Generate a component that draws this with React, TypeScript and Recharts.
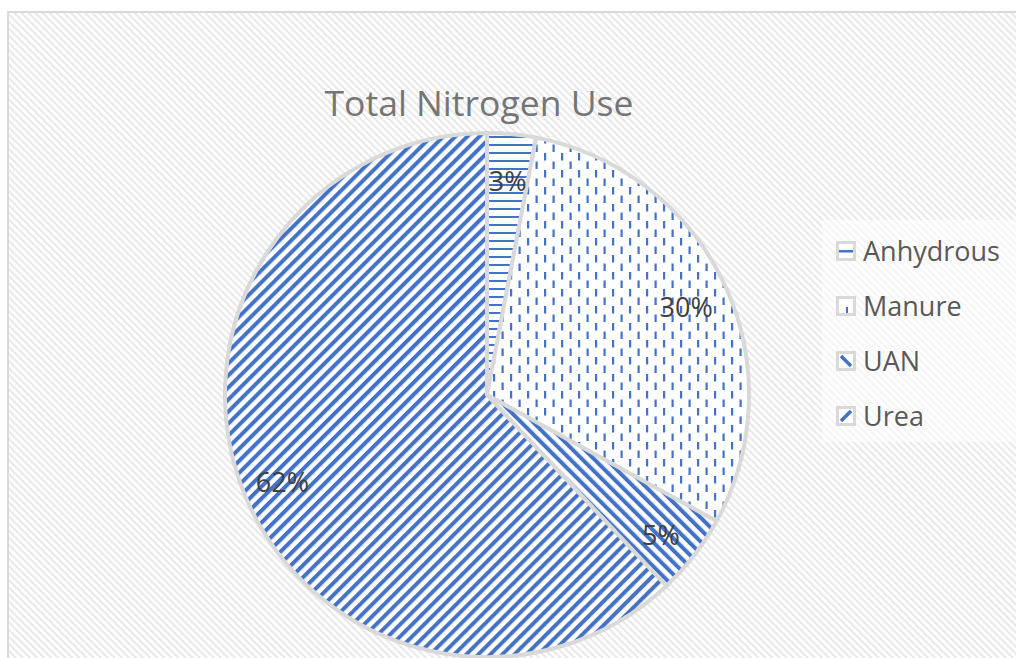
import React from 'react';
import { PieChart, Pie, Cell, Legend } from 'recharts';

const categories = ['Anhydrous', 'Manure', 'UAN', 'Urea'];
const shares = [3, 30, 5, 62];
const title = 'Total Nitrogen Use';

const patternIds = ['pAnh', 'pMan', 'pUan', 'pUrea'];
const data = categories.map((name, i) => ({ name, value: shares[i] }));

const BLUE = '#4472C4';
const FONT = '"Open Sans", "Noto Sans", sans-serif';
const RADIAN = Math.PI / 180;

const renderLabel = (props: any) => {
  const { cx, cy, midAngle, outerRadius, percent } = props;
  const r = outerRadius * 0.84;
  const x = cx + r * Math.cos(-midAngle * RADIAN);
  const y = cy + r * Math.sin(-midAngle * RADIAN);
  return (
    <text x={x} y={y + 5} fill="#404040" fontSize={27} fontFamily={FONT} textAnchor="middle" dominantBaseline="central">
      {`${Math.round(percent * 100)}%`}
    </text>
  );
};

const LegendContent = (props: any) => {
  const payload = props.payload || [];
  return (
    <div style={{ width: 194, height: 222, background: 'rgba(255,255,255,0.55)', boxSizing: 'border-box', paddingTop: 3 }}>
      {payload.map((entry: any, i: number) => {
        const idx = categories.indexOf(entry.value);
        return (
          <div key={i} style={{ display: 'flex', alignItems: 'center', height: 55, marginLeft: 14 }}>
            <svg width={20} height={20} style={{ marginRight: 7 }}>
              <rect x={1.5} y={1.5} width={17} height={17} fill={`url(#${patternIds[idx]}L)`} stroke="#d9d9d9" strokeWidth={3} />
            </svg>
            <span style={{ fontFamily: FONT, fontSize: 27, color: '#595959', lineHeight: '32px' }}>{entry.value}</span>
          </div>
        );
      })}
    </div>
  );
};

export default function App() {
  return (
    <div style={{ position: 'absolute', left: 0, top: 0, width: 1016, height: 658, background: '#fff', overflow: 'hidden' }}>
      <svg width={1016} height={658} style={{ position: 'absolute', left: 0, top: 0 }}>
        <defs>
          <pattern id="bgHatch" patternUnits="userSpaceOnUse" width={5} height={5} patternTransform="rotate(-45)">
            <rect width={5} height={5} fill="#ffffff" />
            <rect x={0} y={0} width={2} height={5} fill="#e8e8e8" />
          </pattern>
          <pattern id="pUrea" patternUnits="userSpaceOnUse" width={8.5} height={8.5} patternTransform="rotate(45)">
            <rect width={8.5} height={8.5} fill="#ffffff" />
            <rect x={0} y={0} width={4} height={8.5} fill={BLUE} />
          </pattern>
          <pattern id="pUan" patternUnits="userSpaceOnUse" width={8.5} height={8.5} patternTransform="rotate(-45)">
            <rect width={8.5} height={8.5} fill="#ffffff" />
            <rect x={0} y={0} width={4} height={8.5} fill={BLUE} />
          </pattern>
          <pattern id="pAnh" patternUnits="userSpaceOnUse" width={8} height={8}>
            <rect width={8} height={8} fill="#ffffff" />
            <rect x={0} y={0} width={8} height={2} fill={BLUE} />
          </pattern>
          <pattern id="pMan" patternUnits="userSpaceOnUse" width={17} height={17}>
            <rect width={17} height={17} fill="#ffffff" />
            <rect x={0} y={0} width={2.2} height={7.5} fill={BLUE} />
            <rect x={8.5} y={8.5} width={2.2} height={7.5} fill={BLUE} />
          </pattern>
          <pattern id="pUreaL" patternUnits="userSpaceOnUse" width={20} height={20}>
            <rect width={20} height={20} fill="#ffffff" />
            <line x1={5} y1={15} x2={15} y2={5} stroke={BLUE} strokeWidth={3.5} />
          </pattern>
          <pattern id="pUanL" patternUnits="userSpaceOnUse" width={20} height={20}>
            <rect width={20} height={20} fill="#ffffff" />
            <line x1={5} y1={5} x2={15} y2={15} stroke={BLUE} strokeWidth={3.5} />
          </pattern>
          <pattern id="pAnhL" patternUnits="userSpaceOnUse" width={20} height={20}>
            <rect width={20} height={20} fill="#ffffff" />
            <rect x={3} y={9} width={14} height={2.5} fill={BLUE} />
          </pattern>
          <pattern id="pManL" patternUnits="userSpaceOnUse" width={20} height={20}>
            <rect width={20} height={20} fill="#ffffff" />
            <rect x={10} y={11} width={2} height={7} fill={BLUE} />
          </pattern>
        </defs>
        <rect x={0} y={0} width={1016} height={658} fill="#ffffff" />
        <rect x={8} y={12} width={1020} height={660} fill="url(#bgHatch)" stroke="#d9d9d9" strokeWidth={2} />
        <text x={479} y={103} textAnchor="middle" dominantBaseline="central" fill="#757575" fontSize={34} fontFamily={FONT}
          textLength={309} lengthAdjust="spacingAndGlyphs">{title}</text>
      </svg>
      <div style={{ position: 'absolute', left: 0, top: 0 }}>
        <PieChart width={1016} height={658} margin={{ top: 0, right: 0, bottom: 0, left: 0 }}>
          <Pie
            data={data}
            dataKey="value"
            nameKey="name"
            cx={487}
            cy={395}
            outerRadius={262}
            startAngle={90}
            endAngle={-270}
            stroke="#d9d9d9"
            strokeWidth={4}
            label={renderLabel}
            labelLine={false}
            isAnimationActive={false}
          >
            {data.map((d, i) => (
              <Cell key={d.name} fill={`url(#${patternIds[i]})`} />
            ))}
          </Pie>
          <Legend
            layout="vertical"
            content={<LegendContent />}
            wrapperStyle={{ position: 'absolute', left: 822, top: 220, width: 194, height: 222 }}
          />
        </PieChart>
      </div>
    </div>
  );
}
